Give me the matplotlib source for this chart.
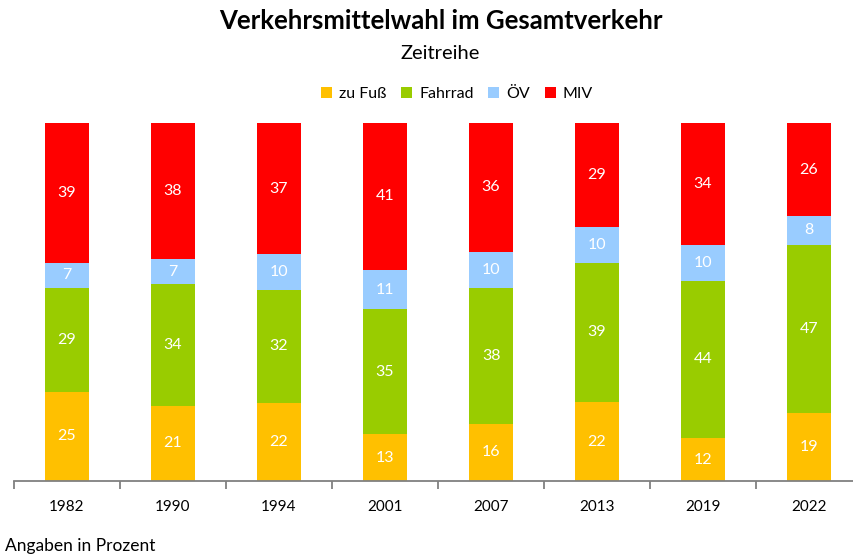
import matplotlib.pyplot as plt
import numpy as np

plt.rcParams['font.family'] = ['Lato', 'DejaVu Sans']

years = ["1982", "1990", "1994", "2001", "2007", "2013", "2019", "2022"]
fuss = [25, 21, 22, 13, 16, 22, 12, 19]
fahrrad = [29, 34, 32, 35, 38, 39, 44, 47]
oev = [7, 7, 10, 11, 10, 10, 10, 8]
miv = [39, 38, 37, 41, 36, 29, 34, 26]

series = [("zu Fuß", fuss, "#FFC000"),
          ("Fahrrad", fahrrad, "#99CC00"),
          ("ÖV", oev, "#99CCFF"),
          ("MIV", miv, "#FF0000")]

# bars are scaled to 100 % (rounded values don't always add up)
totals = np.sum([s[1] for s in series], axis=0)

fig = plt.figure(figsize=(8.54, 5.57), dpi=100)
ax = fig.add_axes([0.0164, 0.1364, 0.993, 0.6427])

x = np.arange(len(years))
bottom = np.zeros(len(years))
for name, vals, col in series:
    h = np.array(vals) / totals * 100
    bars = ax.bar(x, h, 0.42, bottom=bottom, color=col, label=name)
    ax.bar_label(bars, labels=[str(v) for v in vals], label_type="center",
                 color="white", fontsize=11.5)
    bottom += h

ax.set_xlim(-0.5, len(years) - 0.5)
ax.set_ylim(0, 100)
ax.set_yticks([])
for s in ["top", "right", "left"]:
    ax.spines[s].set_visible(False)
ax.spines["bottom"].set_color("#808080")
ax.spines["bottom"].set_linewidth(1.3)
ax.set_xticks(x)
ax.set_xticklabels(years, fontsize=11)
ax.set_xticks(np.arange(len(years) + 1) - 0.5, minor=True)
ax.tick_params(axis="x", which="major", length=0, pad=14)
ax.tick_params(axis="x", which="minor", length=6, width=1.3, color="#808080")

fig.text(0.516, 0.962, "Verkehrsmittelwahl im Gesamtverkehr", ha="center", va="center",
         fontsize=18.5, fontweight="bold")
fig.text(0.516, 0.904, "Zeitreihe", ha="center", va="center", fontsize=14.5)
fig.legend(loc="center", bbox_to_anchor=(0.535, 0.831), ncol=4, frameon=False,
           fontsize=11.5, handlelength=0.7, handleheight=0.7, handletextpad=0.45,
           columnspacing=0.9)
fig.text(0.006, 0.02, "Angaben in Prozent", ha="left", va="center", fontsize=12.5)

fig.savefig("out.png", dpi=100)
